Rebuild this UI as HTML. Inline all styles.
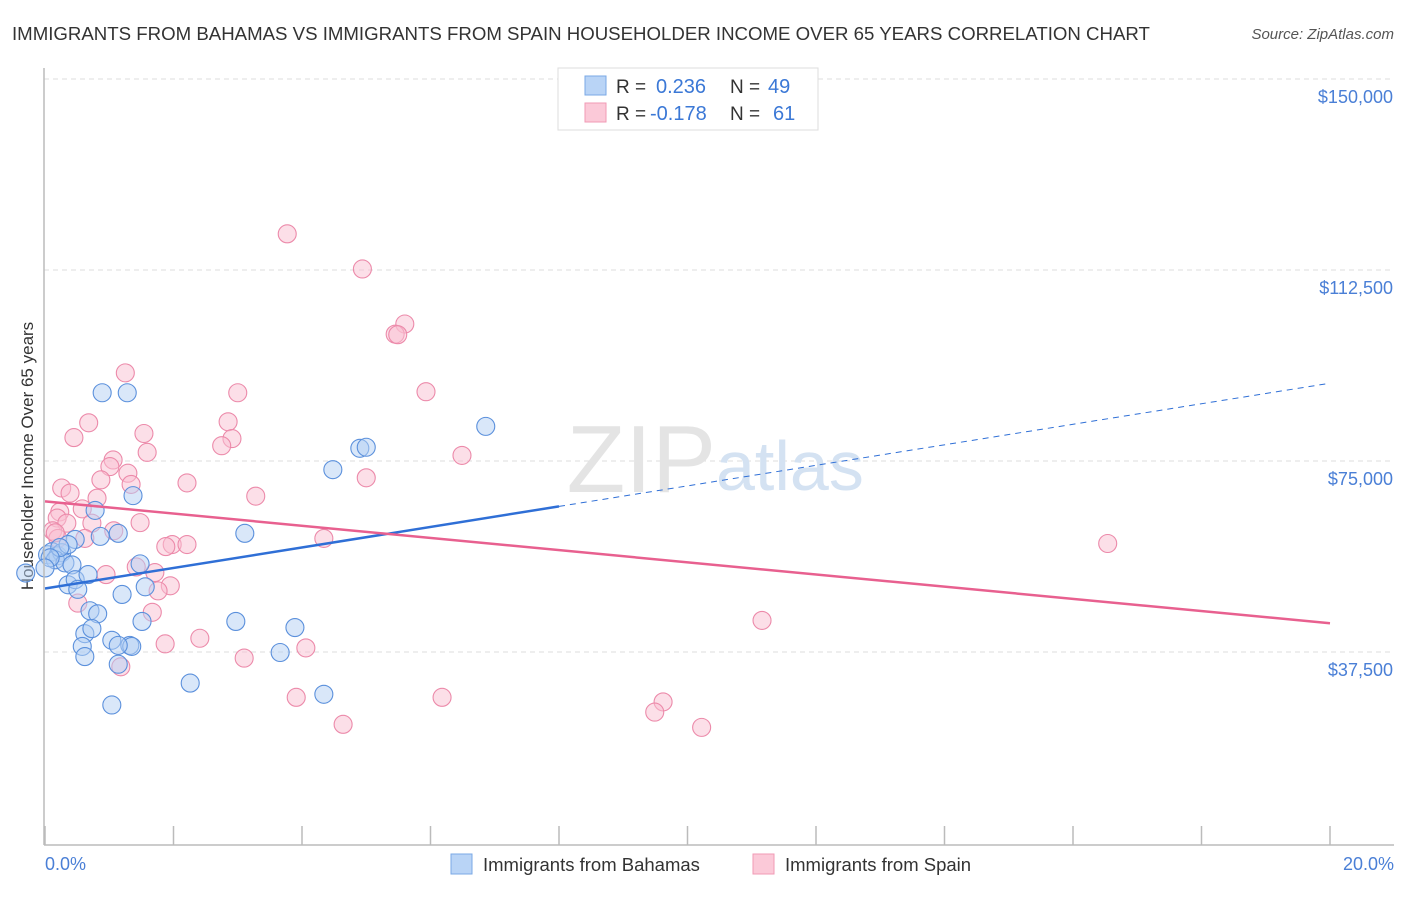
<!DOCTYPE html>
<html><head><meta charset="utf-8"><style>
body{margin:0;background:#fff;font-family:"Liberation Sans",sans-serif;}
svg text{font-family:"Liberation Sans",sans-serif;}
</style></head><body>
<svg id="chart" width="1406" height="892" xmlns="http://www.w3.org/2000/svg">
<text x="12" y="40" font-size="18.65" fill="#333">IMMIGRANTS FROM BAHAMAS VS IMMIGRANTS FROM SPAIN HOUSEHOLDER INCOME OVER 65 YEARS CORRELATION CHART</text>
<text x="1394" y="39" font-size="15" font-style="italic" fill="#555" text-anchor="end">Source: ZipAtlas.com</text>
<text transform="translate(33,456) rotate(-90)" font-size="17" fill="#333" text-anchor="middle">Householder Income Over 65 years</text>
<g id="grid"></g>
<text x="716" y="492" font-size="96" fill="#e4e4e4" text-anchor="end" font-family="Liberation Serif">ZIP</text>
<text x="716" y="490" font-size="70" fill="#d4e2f2">atlas</text>
<g id="marks"></g>
<g id="lines"></g>
<line x1="44" y1="68" x2="44" y2="845" stroke="#bbb" stroke-width="1.5"/>
<line x1="44" y1="845" x2="1394" y2="845" stroke="#bbb" stroke-width="1.5"/>
<g id="xticks"></g>
<text x="45" y="870" font-size="18" fill="#4a7fd6">0.0%</text>
<text x="1394" y="870" font-size="18" fill="#4a7fd6" text-anchor="end">20.0%</text>
<g>
<rect x="558" y="68" width="260" height="62" fill="#fff" stroke="#ddd"/>
<rect x="585" y="76" width="21" height="19" fill="#b9d4f6" stroke="#7aa8e6"/>
<rect x="585" y="103" width="21" height="19" fill="#fbc9d8" stroke="#f09ab5"/>
<text x="616" y="93" font-size="19" fill="#333">R = </text><text x="656" y="93" font-size="20" fill="#3b78d6">0.236</text>
<text x="730" y="93" font-size="19" fill="#333">N = </text><text x="768" y="93" font-size="20" fill="#3b78d6">49</text>
<text x="616" y="120" font-size="19" fill="#333">R = </text><text x="650" y="120" font-size="20" fill="#3b78d6">-0.178</text>
<text x="730" y="120" font-size="19" fill="#333">N = </text><text x="773" y="120" font-size="20" fill="#3b78d6">61</text>
</g>
<g>
<rect x="451" y="854" width="21" height="20" fill="#b9d4f6" stroke="#7aa8e6"/>
<text x="483" y="871" font-size="18.5" fill="#333">Immigrants from Bahamas</text>
<rect x="753" y="854" width="21" height="20" fill="#fbc9d8" stroke="#f09ab5"/>
<text x="785" y="871" font-size="18.5" fill="#333">Immigrants from Spain</text>
</g>
</svg>
<script>
const yTicks=[37500,75000,112500,150000];
const yTickLabels=["$37,500","$75,000","$112,500","$150,000"];
const xTicks=[0,2,4,6,8,10,12,14,16,18,20];
const bahamasX=[0.04,0.11,0.2,0.26,0.16,0.31,0.42,0.36,0.47,0.51,0.47,0.36,0.67,0.78,0.89,1.28,0.86,1.14,1.37,0.7,0.82,0.62,0.73,0.58,0.62,1.04,1.14,1.04,1.2,1.48,1.56,1.32,1.35,1.51,2.26,2.97,3.11,3.66,3.89,4.34,4.48,4.9,5.0,6.86,1.14,0.23,0.08,0.0,-0.3];
const bahamasY=[56600,57200,56400,57000,55600,55000,54600,50700,51700,49800,59600,58600,52700,65300,88400,88400,60200,60800,68200,45600,45000,41100,42100,38600,36600,39800,35100,27100,48800,54800,50300,38800,38600,43500,31400,43500,60800,37400,42300,29200,73300,77500,77700,81800,38800,58000,56000,54000,53000];
const spainX=[3.77,4.94,5.6,5.45,5.49,5.93,1.25,3.0,0.68,2.85,0.45,1.54,2.91,1.59,2.75,6.49,1.06,1.01,5.0,1.29,2.21,0.26,0.39,0.81,0.87,1.34,3.28,0.23,0.58,0.19,0.34,0.73,1.48,0.12,0.2,0.16,0.62,4.34,1.07,1.98,2.21,1.88,16.54,0.95,1.71,1.42,1.95,1.76,0.51,1.67,2.41,1.87,4.06,3.1,1.18,3.91,6.18,9.62,9.49,4.64,10.22,11.16];
const spainY=[119600,112700,101900,99900,99800,88600,92300,88400,82500,82700,79600,80400,79400,76700,78000,76100,75200,73900,71700,72600,70700,69700,68700,67700,71300,70400,68100,65000,65600,63800,62800,62800,62900,61300,59800,60900,59800,59800,61300,58600,58600,58200,58800,52700,53100,54200,50500,49500,47100,45300,40200,39100,38300,36300,34600,28600,28600,27700,25700,23300,22700,43700];
const NS="http://www.w3.org/2000/svg";
const X0=45,X1=1330,Ybase=843,PX=191/37500;
function xs(v){return X0+(X1-X0)*v/20;}
function ys(v){return Ybase-v*PX;}
function mk(t,a,p){const e=document.createElementNS(NS,t);for(const k in a)e.setAttribute(k,a[k]);document.getElementById(p).appendChild(e);return e;}
yTicks.forEach((t,i)=>{
  const l=mk('line',{x1:44,x2:1394,y1:ys(t),y2:ys(t),stroke:'#ddd','stroke-dasharray':'5,4'},'grid');
  
  
  const tx=mk('text',{x:1393,y:ys(t)+24,'font-size':18,fill:'#4a7fd6','text-anchor':'end'},'grid');
  tx.textContent=yTickLabels[i];
  
  
});
xTicks.forEach(t=>{
  const l=mk('line',{x1:xs(t),x2:xs(t),y1:826,y2:845,stroke:'#bbb','stroke-width':1.5},'xticks');
  
  
});
function pts(xa,ya,fill,stroke,name){
  xa.forEach((x,i)=>{
    const c=mk('circle',{cx:xs(x),cy:ys(ya[i]),r:9,fill:fill,'fill-opacity':0.5,stroke:stroke,'stroke-width':1.1},'marks');
    
    
  });
}
pts(spainX,spainY,'#f9c0d2','#ec8aaa','spain-point');
pts(bahamasX,bahamasY,'#b4cff3','#5b90dc','bahamas-point');
function fit(xa,ya){const n=xa.length;let mx=0,my=0;for(let i=0;i<n;i++){mx+=xa[i];my+=ya[i];}mx/=n;my/=n;let sxy=0,sxx=0;for(let i=0;i<n;i++){sxy+=(xa[i]-mx)*(ya[i]-my);sxx+=(xa[i]-mx)**2;}const b=sxy/sxx;return [my-b*mx,b];}
const fb=fit(bahamasX,bahamasY),fs=fit(spainX,spainY);
let l=mk('line',{x1:xs(0),y1:ys(fb[0]),x2:xs(8),y2:ys(fb[0]+fb[1]*8),stroke:'#2f6fd6','stroke-width':2.5},'lines');


l=mk('line',{x1:xs(8),y1:ys(fb[0]+fb[1]*8),x2:xs(20),y2:ys(fb[0]+fb[1]*20),stroke:'#2f6fd6','stroke-width':1,'stroke-dasharray':'6,5'},'lines');


l=mk('line',{x1:xs(0),y1:ys(fs[0]),x2:xs(20),y2:ys(fs[0]+fs[1]*20),stroke:'#e8608f','stroke-width':2.5},'lines');


</script>
</body></html>
